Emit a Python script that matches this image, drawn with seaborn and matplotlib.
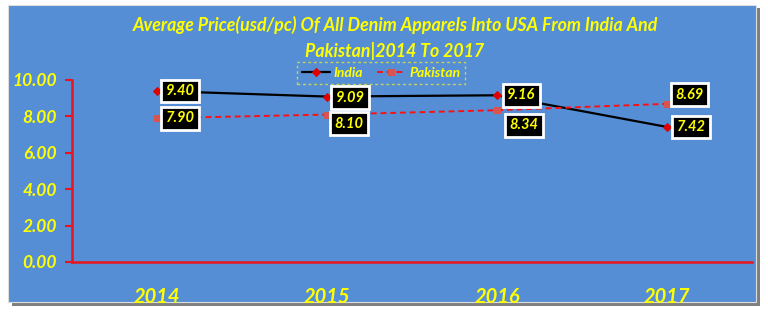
import matplotlib
matplotlib.use("Agg")
import matplotlib.pyplot as plt
import seaborn as sns
import pandas as pd
from matplotlib.patches import Rectangle

years = ["2014", "2015", "2016", "2017"]
india = [9.40, 9.09, 9.16, 7.42]
pakistan = [7.90, 8.10, 8.34, 8.69]
yticks = [0, 2, 4, 6, 8, 10]

title = "Average Price(usd/pc) Of All Denim Apparels Into USA From India And\nPakistan|2014 To 2017"

sns.set_theme(style="white")
plt.rcParams['font.family'] = ['Lato', 'DejaVu Sans']

BLUE = "#558ED5"
YEL = "#FFFF00"
RED = "#E8141E"

fig = plt.figure(figsize=(7.68, 3.31), dpi=100)
fig.patch.set_facecolor("white")
# shadow and panel
fig.add_artist(Rectangle((12/768, 1-306/331), 748/768, 298/331, transform=fig.transFigure,
                         facecolor="#7f7f7f", edgecolor="none", zorder=0))
fig.add_artist(Rectangle((8/768, 1-302/331), 748/768, 297/331, transform=fig.transFigure,
                         facecolor=BLUE, edgecolor="#dddddd", lw=0.8, zorder=0.5))

ax = fig.add_axes([72/768, 1-262/331, 680/768, 182/331])
ax.set_zorder(2)
ax.set_facecolor("none")

df = pd.DataFrame({"Year": years * 2,
                   "Price": india + pakistan,
                   "Country": ["India"] * 4 + ["Pakistan"] * 4})
df["x"] = list(range(4)) * 2

sns.lineplot(data=df[df.Country == "India"], x="x", y="Price", ax=ax, color="black",
             lw=1.6, marker="D", markersize=4, markerfacecolor="#E00000",
             markeredgecolor="#E00000", label="India")
sns.lineplot(data=df[df.Country == "Pakistan"], x="x", y="Price", ax=ax, color="#FF1010",
             lw=1.4, linestyle=(0, (3, 2)), marker="s", markersize=5,
             markerfacecolor="#D9534F", markeredgecolor="#D9534F", label="Pakistan")

ax.set_xlim(-0.5, 3.5)
ax.set_ylim(0, 10)
ax.set_yticks(yticks)
ax.set_yticklabels([f"{v:.2f}" for v in yticks], color=YEL, fontsize=12.5,
                   fontweight="bold", fontstyle="italic")
ax.set_xticks(range(4))
ax.set_xticklabels(years, color=YEL, fontsize=14.5, fontweight="bold", fontstyle="italic")
ax.tick_params(axis="y", colors=RED, length=5, width=1.5, left=True, labelcolor=YEL, pad=6)
ax.tick_params(axis="x", length=0, pad=18, labelcolor=YEL)
for s in ["top", "right"]:
    ax.spines[s].set_visible(False)
for s in ["left", "bottom"]:
    ax.spines[s].set_color(RED)
    ax.spines[s].set_linewidth(1.8)
ax.set_xlabel("")
ax.set_ylabel("")

box = dict(boxstyle="square,pad=0.3", facecolor="black", edgecolor="white", lw=2)
ind_off = [(23, 0), (23, -1), (24, 0), (24, 0)]
pak_off = [(23, 0), (22, -9), (27, -15), (22, 9)]
for i, v in enumerate(india):
    ax.annotate(f"{v:.2f}", (i, v), xytext=ind_off[i], textcoords="offset pixels",
                ha="center", va="center", color=YEL, fontsize=10.5, fontweight="bold",
                fontstyle="italic", bbox=box, zorder=5)
for i, v in enumerate(pakistan):
    ax.annotate(f"{v:.2f}", (i, v), xytext=pak_off[i], textcoords="offset pixels",
                ha="center", va="center", color=YEL, fontsize=10.5, fontweight="bold",
                fontstyle="italic", bbox=box, zorder=5)

leg = ax.legend(loc="center", bbox_to_anchor=(381/768, 1-73/331), bbox_transform=fig.transFigure,
                ncol=2, frameon=True, fontsize=10, handlelength=2.0, columnspacing=1.0,
                handletextpad=0.3, borderpad=0.35, fancybox=False)
fr = leg.get_frame()
fr.set_facecolor("none")
fr.set_edgecolor("#E6E632")
fr.set_linestyle((0, (2, 2)))
fr.set_linewidth(1.0)
for t in leg.get_texts():
    t.set_color(YEL)
    t.set_fontstyle("italic")
    t.set_fontweight("bold")

fig.text(395/768, 1-38/331, title, ha="center", va="center", color=YEL, fontsize=12.8,
         fontweight="bold", fontstyle="italic", linespacing=1.55)

fig.savefig("out.png", dpi=100)
